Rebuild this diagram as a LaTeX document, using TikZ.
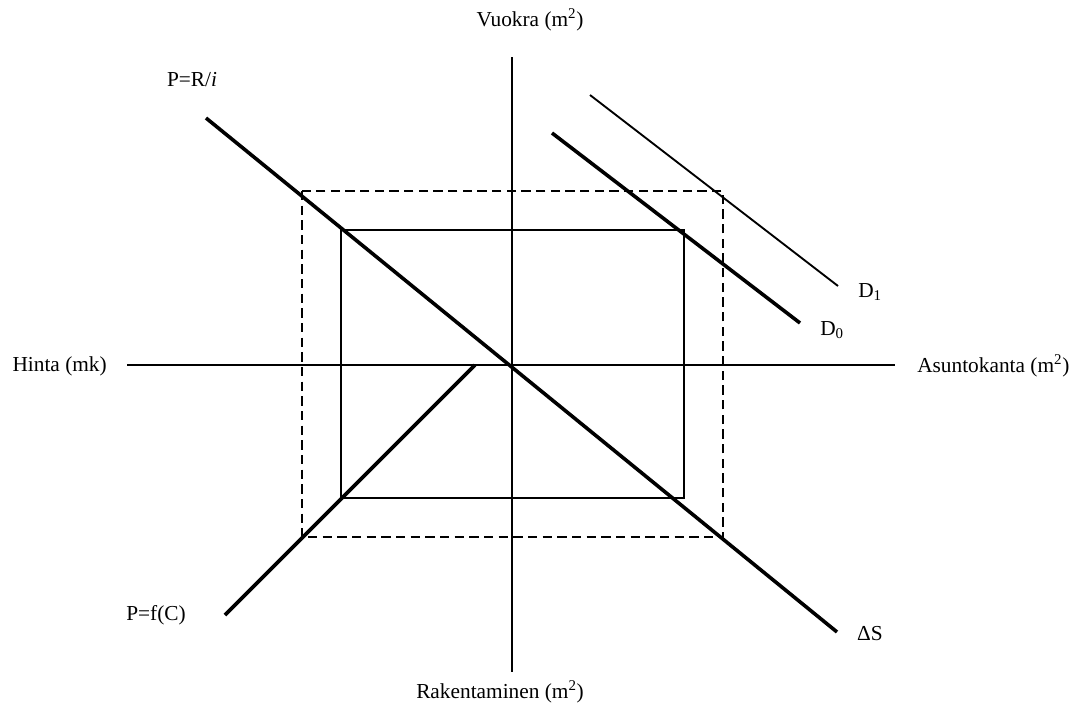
\documentclass[tikz,border=0pt]{standalone}
\usepackage{fontspec}
\setmainfont{Liberation Serif}
\begin{document}
\begin{tikzpicture}[x=0.75pt,y=-0.75pt,
  lbl/.style={inner sep=0pt,font=\fontsize{16}{19}\selectfont},
  thinline/.style={line width=1.4pt},
  thickline/.style={line width=2.7pt},
  boxline/.style={line width=2.1pt},
  dashline/.style={line width=1.7pt,dash pattern=on 7pt off 4pt}]
\useasboundingbox (0,0) rectangle (1076,711);
% axes
\coordinate (ytop) at (512,57);
\coordinate (ybot) at (512,672);
\coordinate (xl) at (127,365);
\coordinate (xr) at (895,365);
\draw[thinline] (ytop) -- (ybot);
\draw[thinline] (xl) -- (xr);
% labels
\node[lbl] (lv) at (530,20) {Vuokra (m\textsuperscript{2})};
\node[lbl] (lr) at (500,692) {Rakentaminen (m\textsuperscript{2})};
\node[lbl,anchor=east] (lh) at (107,366) {Hinta (mk)};
\node[lbl,anchor=west] (la) at (917,366) {Asuntokanta (m\textsuperscript{2})};
\node[lbl] (lp) at (192,80) {P=R/\textit{i}};
\node[lbl] (lf) at (156,615) {P=f(C)};
\node[lbl] (ls) at (870,634) {ΔS};
\node[lbl,anchor=west] (ld1) at (858,292) {D\textsubscript{1}};
\node[lbl,anchor=west] (ld0) at (820,330) {D\textsubscript{0}};
% rectangles
\coordinate (s1) at (341,230);
\coordinate (s2) at (684,498);
\coordinate (d1) at (302,191);
\coordinate (d2) at (723,537);
\draw[dashline] (d1) rectangle (d2);
\draw[boxline] (s1) rectangle (s2);
% P=R/i  / Delta S line
\coordinate (pa) at (206,118);
\coordinate (pb) at (837,632);
\draw[thickline] (pa) -- (pb);
% P=f(C) line
\coordinate (fa) at (225,615);
\coordinate (fb) at (475,365);
\draw[thickline] (fa) -- (fb);
% demand curves
\coordinate (d0a) at (552,133);
\coordinate (d0b) at (800,323);
\draw[thickline] (d0a) -- (d0b);
\coordinate (d1a) at (590,95);
\coordinate (d1b) at (838,286);
\draw[thinline] (d1a) -- (d1b);
\end{tikzpicture}
\end{document}
